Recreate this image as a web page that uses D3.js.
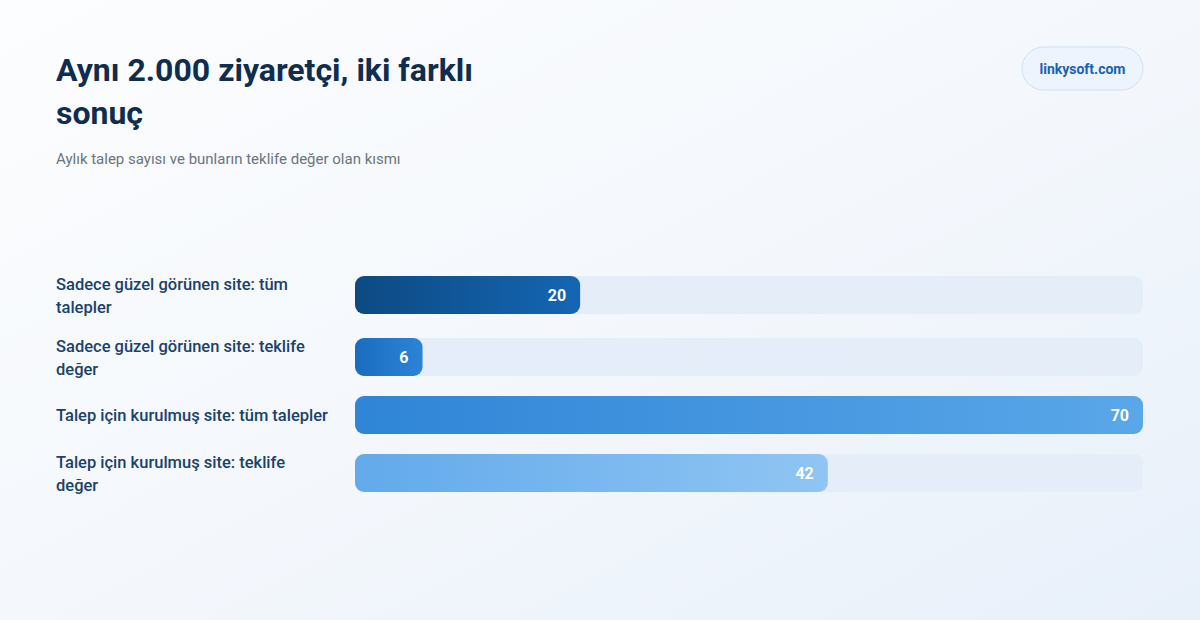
<!DOCTYPE html>
<html>
<head>
<meta charset="utf-8">
<script src="https://cdn.jsdelivr.net/npm/d3@7"></script>
<style>
  html, body { margin: 0; padding: 0; }
  body { width: 1200px; height: 620px; overflow: hidden; }
  svg { display: block; font-family: "Roboto", "Noto Sans", sans-serif; }
</style>
</head>
<body>
<svg id="chart"></svg>
<script>
// data
var categories = [
  "Sadece güzel görünen site: tüm talepler",
  "Sadece güzel görünen site: teklife değer",
  "Talep için kurulmuş site: tüm talepler",
  "Talep için kurulmuş site: teklife değer"
];
var labelLines = [
  ["Sadece güzel görünen site: tüm", "talepler"],
  ["Sadece güzel görünen site: teklife", "değer"],
  ["Talep için kurulmuş site: tüm talepler"],
  ["Talep için kurulmuş site: teklife", "değer"]
];
var values = [20, 6, 70, 42];
var maxValue = 70;

var titleLines = ["Aynı 2.000 ziyaretçi, iki farklı", "sonuç"];
var subtitle = "Aylık talep sayısı ve bunların teklife değer olan kısmı";
var badgeText = "linkysoft.com";

// bar gradients, left -> right
var barStart = ["#0d4a82", "#1a6cbf", "#2f85d6", "#62aaeb"];
var barEnd   = ["#1466b4", "#2c84d6", "#5aa7e9", "#90c5f3"];

var width = 1200, height = 620;
var svg = d3.select("#chart").attr("width", width).attr("height", height);
var defs = svg.append("defs");

var bg = defs.append("linearGradient").attr("id", "bg")
  .attr("x1", "0").attr("y1", "0").attr("x2", "1").attr("y2", "1");
bg.append("stop").attr("offset", "0%").attr("stop-color", "#fcfdfe");
bg.append("stop").attr("offset", "55%").attr("stop-color", "#f3f7fc");
bg.append("stop").attr("offset", "100%").attr("stop-color", "#e8f0fa");
svg.append("rect").attr("width", width).attr("height", height).attr("fill", "url(#bg)");

// title
svg.append("text")
  .attr("x", 56).attr("y", 81)
  .attr("fill", "#0f2d4f")
  .attr("font-size", 32).attr("font-weight", 700)
  .selectAll("tspan").data(titleLines).enter().append("tspan")
  .attr("x", 56).attr("dy", function(d, i) { return i ? 43 : 0; })
  .text(function(d) { return d; });

svg.append("text")
  .attr("x", 56).attr("y", 164)
  .attr("fill", "#6b7480").attr("font-size", 15)
  .text(subtitle);

// badge
var badge = svg.append("g").attr("transform", "translate(1022,47)");
badge.append("rect").attr("width", 121).attr("height", 43).attr("rx", 21.5)
  .attr("fill", "#edf4fd").attr("stroke", "#cfe0f4");
badge.append("text").attr("x", 60.5).attr("y", 26.5)
  .attr("text-anchor", "middle").attr("fill", "#1663b4")
  .attr("font-size", 14).attr("font-weight", 700)
  .text(badgeText);

// rows: height depends on how many label lines there are
var lineH = 23, barH = 38, rowGap = 16, rowTop = 272;
var centers = [], acc = rowTop;
labelLines.forEach(function(l) {
  var h = Math.max(l.length * lineH, barH);
  centers.push(acc + h / 2);
  acc += h + rowGap;
});
var yScale = d3.scaleOrdinal().domain(categories).range(centers);
var xScale = d3.scaleLinear().domain([0, maxValue]).range([355, 1143]);

var data = categories.map(function(c, i) {
  return { cat: c, lines: labelLines[i], value: values[i], i: i };
});

data.forEach(function(d) {
  var g = defs.append("linearGradient").attr("id", "bar" + d.i)
    .attr("x1", "0").attr("y1", "0").attr("x2", "1").attr("y2", "0");
  g.append("stop").attr("offset", "0%").attr("stop-color", barStart[d.i]);
  g.append("stop").attr("offset", "100%").attr("stop-color", barEnd[d.i]);
});

var rows = svg.selectAll(".row").data(data).enter().append("g").attr("class", "row");

rows.append("text")
  .attr("fill", "#1a426c").attr("font-size", 16.5).attr("font-weight", 500)
  .attr("y", function(d) { return yScale(d.cat) - (d.lines.length - 1) * lineH / 2 + 6; })
  .selectAll("tspan").data(function(d) { return d.lines; }).enter().append("tspan")
  .attr("x", 56).attr("dy", function(d, i) { return i ? lineH : 0; })
  .text(function(d) { return d; });

// track
rows.append("rect")
  .attr("x", xScale(0))
  .attr("y", function(d) { return yScale(d.cat) - barH / 2; })
  .attr("width", xScale(maxValue) - xScale(0))
  .attr("height", barH).attr("rx", 9)
  .attr("fill", "#e5edf8");

rows.append("rect")
  .attr("x", xScale(0))
  .attr("y", function(d) { return yScale(d.cat) - barH / 2; })
  .attr("width", function(d) { return xScale(d.value) - xScale(0); })
  .attr("height", barH).attr("rx", 9)
  .attr("fill", function(d) { return "url(#bar" + d.i + ")"; });

rows.append("text")
  .attr("x", function(d) { return xScale(d.value) - 14; })
  .attr("y", function(d) { return yScale(d.cat) + 6; })
  .attr("text-anchor", "end").attr("fill", "#ffffff")
  .attr("font-size", 16).attr("font-weight", 700)
  .text(function(d) { return d.value; });
</script>
</body>
</html>
